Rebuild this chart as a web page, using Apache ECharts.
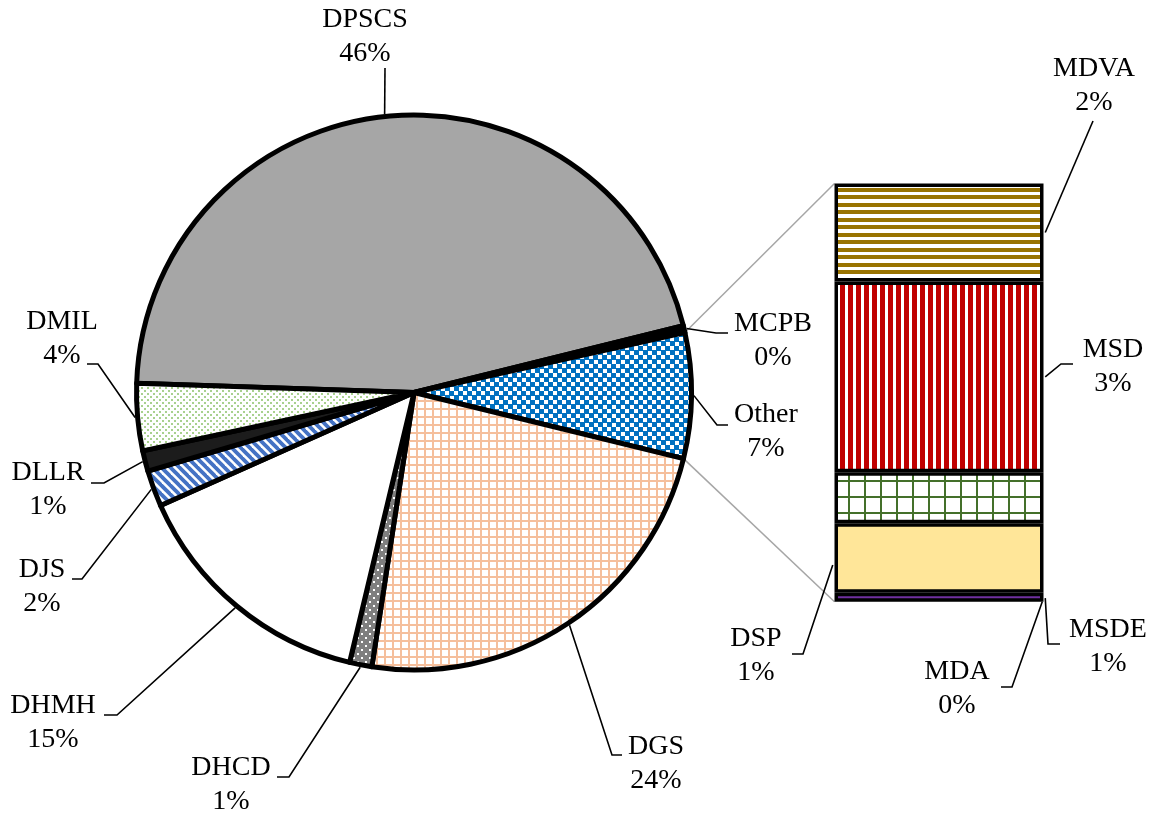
<!DOCTYPE html>
<html><head><meta charset="utf-8">
<script src="https://cdn.jsdelivr.net/npm/echarts@6/dist/echarts.min.js"></script>
<style>html,body{margin:0;padding:0;background:#fff}#c{width:1155px;height:817px}</style>
</head><body><div id="c"></div>
<script>
// ---------- data (percent of total) ----------
const barNames  = ['MDA', 'DSP', 'MSDE', 'MSD', 'MDVA'];      // bottom to top of the bar
const barValues = [0.16, 1.21, 0.89, 3.33, 1.71];
const otherValue = barValues.reduce((a, b) => a + b, 0);
const pieNames  = ['DPSCS', 'MCPB', 'Other', 'DGS', 'DHCD', 'DHMH', 'DJS', 'DLLR', 'DMIL'];
const pieValues = [45.6, 0.4, otherValue, 23.6, 1.3, 14.6, 2.1, 1.2, 3.9];
const total = pieValues.reduce((a, b) => a + b, 0);

// ---------- layout ----------
const PIE_C = [414, 392.5], PIE_R = 277.5, START = 178.1;
const G_LEFT = 834.5, G_TOP = 183.5, G_W = 209, G_H = 418.3;
const FONT = '28px "Liberation Serif", "Times New Roman", serif';
// label block centre + leader elbow/end points
const pieLabelLayout = {
  DPSCS: { x: 365, y: 37,  line: [[385, 68]] },
  MCPB:  { x: 773, y: 341, line: [[716, 333], [728, 333]] },
  Other: { x: 766, y: 432, line: [[717, 425], [728, 425]] },
  DGS:   { x: 656, y: 764, line: [[612, 755], [622, 755]] },
  DHCD:  { x: 231, y: 785, line: [[289, 777], [277, 777]] },
  DHMH:  { x: 53,  y: 723, line: [[117, 715], [104, 715]] },
  DJS:   { x: 42,  y: 587, line: [[82, 579], [72, 579]] },
  DLLR:  { x: 48,  y: 490, line: [[104, 483], [91, 483]] },
  DMIL:  { x: 62,  y: 339, line: [[98, 364], [87, 364]] }
};
const barLabelLayout = {
  MDVA: { x: 1094, y: 86,  side: 'right', seg: 'MDVA', f: 0.5, line: [[1093, 121]] },
  MSD:  { x: 1113, y: 367, side: 'right', seg: 'MSD',  f: 0.5, line: [[1061, 364], [1073, 364]] },
  MSDE: { x: 1108, y: 647, side: 'right', seg: 'MDA',  f: 0.4, line: [[1048, 644], [1060, 644]] },
  DSP:  { x: 756,  y: 656, side: 'left',  seg: 'DSP',  f: 0.4, line: [[803, 654], [792, 654]] },
  MDA:  { x: 957,  y: 689, side: 'right', seg: 'MDA',  f: 0.0, dx: -3, line: [[1012, 687], [1001, 687]] }
};

// ---------- pattern fills ----------
function pat(w, h, draw) {
  const c = document.createElement('canvas'); c.width = w; c.height = h;
  const g = c.getContext('2d'); draw(g, w, h);
  return { image: c, repeat: 'repeat' };
}
const fills = {
  DPSCS: '#A6A6A6',
  MCPB: '#000000',
  Other: pat(9, 9, g => { g.fillStyle = '#0070C0'; g.fillRect(0, 0, 9, 9); g.fillStyle = '#fff'; g.fillRect(0, 0, 4, 4); g.fillRect(4, 4, 4, 4); }),
  DGS: pat(8, 8, g => { g.fillStyle = '#fff'; g.fillRect(0, 0, 8, 8); g.fillStyle = '#F5BF9C'; g.fillRect(0, 0, 8, 2); g.fillRect(0, 0, 2, 8); }),
  DHCD: pat(8, 8, g => { g.fillStyle = '#7F7F7F'; g.fillRect(0, 0, 8, 8); g.fillStyle = '#fff'; g.fillRect(1, 1, 2, 2); g.fillRect(5, 5, 2, 2); }),
  DHMH: '#FFFFFF',
  DJS: pat(9, 9, g => {
    g.fillStyle = '#fff'; g.fillRect(0, 0, 9, 9);
    g.strokeStyle = '#4472C4'; g.lineWidth = 3.8;
    for (const o of [-9, 0, 9]) { g.beginPath(); g.moveTo(o - 2, -2); g.lineTo(o + 11, 11); g.stroke(); }
  }),
  DLLR: '#1C1C1C',
  DMIL: pat(6, 6, g => { g.fillStyle = '#fff'; g.fillRect(0, 0, 6, 6); g.fillStyle = '#A9D18E'; g.fillRect(0, 0, 2, 2); g.fillRect(3, 3, 2, 2); }),
  MDVA: pat(8, 15, g => { g.fillStyle = '#fff'; g.fillRect(0, 0, 8, 15); g.fillStyle = '#997300'; g.fillRect(0, 0, 8, 4); g.fillRect(0, 8, 8, 4); }),
  MSD: pat(8, 8, g => { g.fillStyle = '#fff'; g.fillRect(0, 0, 8, 8); g.fillStyle = '#C00000'; g.fillRect(0, 0, 5, 8); }),
  MSDE: pat(16, 16, g => { g.fillStyle = '#fff'; g.fillRect(0, 0, 16, 16); g.fillStyle = '#44702A'; g.fillRect(0, 0, 16, 2); g.fillRect(0, 0, 2, 16); }),
  DSP: '#FFE699',
  MDA: '#7030A0'
};

const pct = v => Math.round(v / total * 100) + '%';

const chart = echarts.init(document.getElementById('c'), null, { renderer: 'canvas' });
const option = {
  animation: false,
  backgroundColor: '#fff',
  grid: { left: G_LEFT, top: G_TOP, width: G_W, height: G_H },
  xAxis: { type: 'category', data: ['Other'], show: false, boundaryGap: true },
  yAxis: { type: 'value', min: 0, max: otherValue, show: false },
  series: [
    {
      type: 'pie', center: PIE_C, radius: PIE_R, startAngle: START, clockwise: true,
      label: { show: false }, labelLine: { show: false }, silent: true,
      emphasis: { disabled: true },
      itemStyle: { borderColor: '#000', borderWidth: 5, borderJoin: 'round' },
      data: pieNames.map((n, i) => ({ name: n, value: pieValues[i], itemStyle: { color: fills[n] } }))
    }
  ].concat(barNames.map((n, i) => ({
    type: 'bar', name: n, stack: 'other', barWidth: '100%', silent: true,
    emphasis: { disabled: true },
    itemStyle: { color: fills[n], borderColor: '#000', borderWidth: 3.5 },
    data: [barValues[i]]
  })))
};
chart.setOption(option);

// ---------- labels, leader lines, connectors ----------
const els = [];
const rad = d => d * Math.PI / 180;
const polar = (deg, r) => [PIE_C[0] + r * Math.cos(rad(deg)), PIE_C[1] - r * Math.sin(rad(deg))];
let cum = 0;
const pieAngles = {};
pieNames.forEach((n, i) => {
  const span = pieValues[i] / total * 360;
  const a0 = START - cum, a1 = a0 - span;
  cum += span;
  pieAngles[n] = [a0, a1];
});
// grey connectors from "Other" slice to bar
const [oa0, oa1] = pieAngles['Other'];
const barTop = chart.convertToPixel({ xAxisIndex: 0, yAxisIndex: 0 }, [0, otherValue]);
const barBot = chart.convertToPixel({ xAxisIndex: 0, yAxisIndex: 0 }, [0, 0]);
[[polar(oa0, PIE_R), [G_LEFT, barTop[1]]], [polar(oa1, PIE_R), [G_LEFT, barBot[1]]]].forEach(p => {
  els.push({ type: 'polyline', z: 0, silent: true, shape: { points: p }, style: { stroke: '#A6A6A6', lineWidth: 1.5, fill: null } });
});

function addLabel(name, value, lay, anchor) {
  els.push({ type: 'polyline', z: 100, silent: true, shape: { points: [anchor].concat(lay.line) },
    style: { stroke: '#000', lineWidth: 1.6, fill: null } });
  els.push({ type: 'text', z: 100, silent: true, x: lay.x, y: lay.y,
    style: { text: name + '\n' + pct(value), font: FONT, fill: '#000', align: 'center', verticalAlign: 'middle', lineHeight: 34 } });
}
pieNames.forEach((n, i) => {
  const [a0, a1] = pieAngles[n];
  addLabel(n, pieValues[i], pieLabelLayout[n], polar((a0 + a1) / 2, PIE_R + 2.5));
});
const barBase = {};
let acc = 0;
barNames.forEach((n, i) => { barBase[n] = acc; acc += barValues[i]; });
barNames.forEach((n, i) => {
  const lay = barLabelLayout[n];
  const si = barNames.indexOf(lay.seg);
  const v = barBase[lay.seg] + barValues[si] * lay.f;
  const py = chart.convertToPixel({ xAxisIndex: 0, yAxisIndex: 0 }, [0, v])[1];
  const px = (lay.side === 'right' ? G_LEFT + G_W + 1.75 : G_LEFT - 1.75) + (lay.dx || 0);
  addLabel(n, barValues[i], lay, [px, py]);
});
chart.setOption({ graphic: { elements: els } });
</script>
</body></html>
